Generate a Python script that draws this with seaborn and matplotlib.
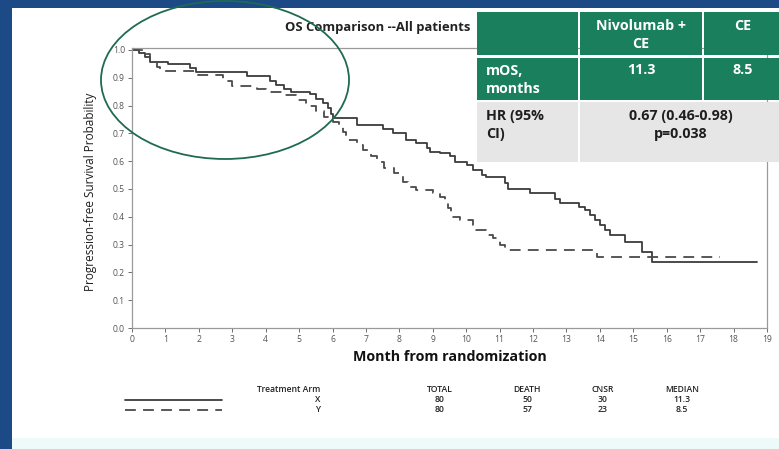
import numpy as np
import pandas as pd
import matplotlib
matplotlib.use("Agg")
import matplotlib.pyplot as plt
import seaborn as sns
from matplotlib.patches import Rectangle, Ellipse
from matplotlib.lines import Line2D

# ---------------- data ----------------
arm_x_time = [0, 0.2, 0.4, 0.55, 1.08, 1.74, 1.9, 3.43, 4.13, 4.3, 4.55, 4.75, 5.33, 5.5, 5.72,
              5.85, 5.95, 6.0, 6.72, 7.52, 7.8, 8.2, 8.5, 8.82, 8.92, 9.22, 9.52, 9.67, 10.02,
              10.2, 10.46, 10.6, 11.15, 11.25, 11.91, 12.66, 12.8, 13.36, 13.55, 13.7, 13.85,
              14.0, 14.15, 14.3, 14.75, 15.25, 15.55, 18.69]
arm_x_surv = [1.0, 0.99, 0.975, 0.958, 0.948, 0.935, 0.922, 0.906, 0.89, 0.874, 0.86, 0.85, 0.84,
              0.825, 0.81, 0.79, 0.77, 0.755, 0.73, 0.715, 0.70, 0.676, 0.665, 0.646, 0.634,
              0.628, 0.617, 0.598, 0.586, 0.568, 0.55, 0.544, 0.52, 0.499, 0.484, 0.465, 0.448,
              0.436, 0.424, 0.405, 0.39, 0.37, 0.352, 0.335, 0.31, 0.274, 0.238, 0.238]

arm_y_time = [0, 0.35, 0.55, 0.75, 0.85, 1.98, 2.73, 3.0, 3.73, 4.0, 4.5, 4.9, 5.2, 5.5, 5.75,
              6.0, 6.2, 6.3, 6.4, 6.72, 6.9, 7.15, 7.32, 7.55, 7.85, 8.1, 8.25, 8.5, 9.0, 9.22,
              9.36, 9.45, 9.55, 9.8, 10.2, 10.3, 10.6, 10.8, 11.0, 11.15, 13.9, 17.6]
arm_y_surv = [1.0, 0.985, 0.965, 0.94, 0.924, 0.91, 0.89, 0.87, 0.86, 0.85, 0.838, 0.82, 0.80,
              0.78, 0.758, 0.74, 0.724, 0.706, 0.676, 0.658, 0.64, 0.617, 0.598, 0.574, 0.556,
              0.526, 0.506, 0.496, 0.485, 0.472, 0.46, 0.43, 0.40, 0.388, 0.37, 0.352, 0.335,
              0.322, 0.298, 0.28, 0.256, 0.256]

x_ticks = list(range(0, 20))
y_ticks = [0.0, 0.1, 0.2, 0.3, 0.4, 0.5, 0.6, 0.7, 0.8, 0.9, 1.0]

table_header = ["", "Nivolumab +\nCE", "CE"]
table_row1 = ["mOS,\nmonths", "11.3", "8.5"]
table_row2 = ["HR (95%\nCI)", "0.67 (0.46-0.98)\np=0.038"]

risk_headers = ["Treatment Arm", "TOTAL", "DEATH", "CNSR", "MEDIAN"]
risk_arms = ["X", "Y"]
risk_total = ["80", "80"]
risk_death = ["50", "57"]
risk_cnsr = ["30", "23"]
risk_median = ["11.3", "8.5"]

# ---------------- setup ----------------
W, H = 779, 449
sns.set_theme(style="white")
plt.rcParams["font.family"] = ["Open Sans", "DejaVu Sans"]


def fx(px):
    return px / W


def fy(py):
    return 1 - py / H


fig = plt.figure(figsize=(W / 100, H / 100), dpi=100)
fig.patch.set_facecolor("white")

# frame decorations (slide border)
fig.add_artist(Rectangle((0, 0), fx(12), 1, transform=fig.transFigure,
                         facecolor="#1b4a87", edgecolor="none", zorder=0))
fig.add_artist(Rectangle((0, fy(8)), 1, 8 / H, transform=fig.transFigure,
                         facecolor="#1b4a87", edgecolor="none", zorder=0))
fig.add_artist(Rectangle((fx(12), 0), 1, 11 / H, transform=fig.transFigure,
                         facecolor="#eef9fa", edgecolor="none", zorder=0))

ax = fig.add_axes([fx(132), fy(328), (767 - 132) / W, (328 - 48) / H])
ax.set_facecolor("white")

df_x = pd.DataFrame({"Month": arm_x_time, "Survival": arm_x_surv})
df_y = pd.DataFrame({"Month": arm_y_time, "Survival": arm_y_surv})

sns.lineplot(data=df_x, x="Month", y="Survival", estimator=None, sort=False,
             drawstyle="steps-post", color="#3c3c3c", linewidth=1.3, ax=ax)
sns.lineplot(data=df_y, x="Month", y="Survival", estimator=None, sort=False,
             drawstyle="steps-post", color="#4a4a4a", linewidth=1.3,
             linestyle=(0, (6, 4)), ax=ax)

ax.set_xlim(0, 19)
ax.set_ylim(0, 1.007)
ax.set_xticks(x_ticks)
ax.set_xticklabels([str(t) for t in x_ticks])
ax.set_yticks(y_ticks)
ax.set_yticklabels([f"{v:.1f}" for v in y_ticks])
ax.tick_params(axis="both", labelsize=6.2, colors="#555555", length=3, width=0.6,
               direction="out", left=True, bottom=True, pad=2)
for sp in ax.spines.values():
    sp.set_color("#9a9a9a")
    sp.set_linewidth(0.9)

ax.set_ylabel("Progression-free Survival Probability", fontsize=8.5, color="#1e1e1e")
ax.yaxis.set_label_coords(-(132 - 97) / 635, 0.485)
ax.set_xlabel("Month from randomization", fontsize=10.3, fontweight="bold", color="#111111")
ax.xaxis.set_label_coords(0.5, -(350 - 328) / 280)

fig.text(fx(285), fy(28), "OS Comparison --All patients", fontsize=9.4, fontweight="bold",
         color="#222222", ha="left", va="center", zorder=3)

# ---------------- summary table ----------------
green = "#1a7f5c"
gray = "#e6e6e6"
cols = [(477, 578), (580, 702), (704, 780)]
rows = [(12, 55), (58, 100), (102, 162)]


def cell(x0, x1, y0, y1, color):
    fig.add_artist(Rectangle((fx(x0), fy(y1)), (x1 - x0) / W, (y1 - y0) / H,
                             transform=fig.transFigure, facecolor=color,
                             edgecolor="none", zorder=5))


def ctext(x, lines, y0, ha, color):
    for k, ln in enumerate(lines.split("\n")):
        fig.text(fx(x), fy(y0 + 18 * k), ln, ha=ha, va="center", fontsize=10.3,
                 fontweight="bold", color=color, zorder=6)


for c in cols:
    cell(c[0], c[1], rows[0][0], rows[0][1], green)
    cell(c[0], c[1], rows[1][0], rows[1][1], green)
cell(cols[0][0], cols[0][1], rows[2][0], rows[2][1], gray)
cell(cols[1][0], cols[2][1], rows[2][0], rows[2][1], gray)

ctext(641, table_header[1], 26, "center", "white")
ctext(743, table_header[2], 26, "center", "white")
ctext(486, table_row1[0], 71, "left", "white")
ctext(641, table_row1[1], 70, "center", "white")
ctext(743, table_row1[2], 70, "center", "white")
ctext(486, table_row2[0], 116, "left", "#1e1e1e")
ctext(681, table_row2[1], 116, "center", "#1e1e1e")

# ---------------- hand-drawn annotation ----------------
fig.add_artist(Ellipse((fx(225), fy(80)), 248 / W, 158 / H, transform=fig.transFigure,
                       facecolor="none", edgecolor="#1e6b4f", linewidth=1.3, zorder=4))

# ---------------- risk / legend table ----------------
rfs = 6.2
fig.add_artist(Line2D([fx(125), fx(222)], [fy(400), fy(400)], transform=fig.transFigure,
                      color="#3c3c3c", linewidth=1.3))
fig.add_artist(Line2D([fx(125), fx(222)], [fy(410), fy(410)], transform=fig.transFigure,
                      color="#4a4a4a", linewidth=1.3, linestyle=(0, (6, 4))))
col_x = [320, 440, 527, 603, 682]
fig.text(fx(col_x[0]), fy(390), risk_headers[0], ha="right", va="center", fontsize=rfs,
         fontweight="semibold", color="#222222")
for j in range(1, 5):
    fig.text(fx(col_x[j]), fy(390), risk_headers[j], ha="center", va="center", fontsize=rfs,
             fontweight="semibold", color="#222222")
for r, yy in enumerate([400, 409]):
    fig.text(fx(col_x[0]), fy(yy), risk_arms[r], ha="right", va="center", fontsize=rfs,
             fontweight="semibold", color="#222222")
    for j, vals in enumerate([risk_total, risk_death, risk_cnsr, risk_median], start=1):
        fig.text(fx(col_x[j]), fy(yy), vals[r], ha="center", va="center", fontsize=rfs,
                 fontweight="semibold", color="#222222")

fig.savefig("out.png", dpi=100, facecolor=fig.get_facecolor())
